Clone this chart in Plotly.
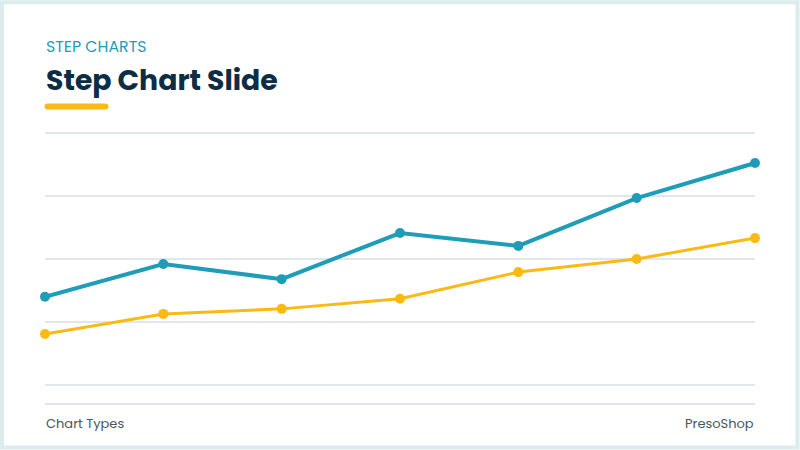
import plotly.graph_objects as go

categories = ["P1", "P2", "P3", "P4", "P5", "P6", "P7"]
series_a = [35.0, 48.0, 42.0, 60.3, 55.2, 74.2, 88.1]
series_b = [20.2, 28.2, 30.2, 34.2, 44.8, 50.0, 58.3]
y_ticks = [0, 25, 50, 75, 100]

BLUE = "#1f9db8"
YELLOW = "#fbb913"
NAVY = "#0c2d44"
GREY_TXT = "#4b5661"
FONT = "Poppins, Inter, Lato, sans-serif"

W, H = 800, 450
PX_PER_UNIT = 2.52
PAD_UNITS = 4
L, R = 45, 755
T = 133 - PAD_UNITS * PX_PER_UNIT
B = 385 + PAD_UNITS * PX_PER_UNIT


def px(x):
    return (x - L) / (R - L)


def py(y):
    return (B - y) / (B - T)


fig = go.Figure()
fig.add_trace(go.Scatter(x=categories, y=series_a, mode="lines+markers",
                         line=dict(color=BLUE, width=4),
                         marker=dict(size=10, color=BLUE),
                         cliponaxis=False, showlegend=False))
fig.add_trace(go.Scatter(x=categories, y=series_b, mode="lines+markers",
                         line=dict(color=YELLOW, width=3),
                         marker=dict(size=10, color=YELLOW),
                         cliponaxis=False, showlegend=False))

shapes = [
    # slide border
    dict(type="rect", xref="paper", yref="paper",
         x0=px(2), x1=px(797.5), y0=py(2), y1=py(447.5),
         line=dict(color="#dcebee", width=4), layer="below"),
    # footer separator
    dict(type="line", xref="paper", yref="paper",
         x0=0, x1=1, y0=py(404), y1=py(404),
         line=dict(color="#dfe5e9", width=2)),
    # yellow accent bar
    dict(type="path", xref="paper", yref="paper",
         path=(f"M {px(48)},{py(103.3)} L {px(105)},{py(103.3)} "
               f"Q {px(108.5)},{py(103.3)} {px(108.5)},{py(106.3)} "
               f"Q {px(108.5)},{py(109.3)} {px(105)},{py(109.3)} "
               f"L {px(48)},{py(109.3)} "
               f"Q {px(44.5)},{py(109.3)} {px(44.5)},{py(106.3)} "
               f"Q {px(44.5)},{py(103.3)} {px(48)},{py(103.3)} Z"),
         fillcolor=YELLOW, line=dict(width=0)),
]

annotations = [
    dict(text="STEP CHARTS", x=px(44), y=py(46), xref="paper", yref="paper",
         xanchor="left", yanchor="middle", showarrow=False,
         font=dict(family=FONT, size=15.8, color=BLUE)),
    dict(text="<b>Step Chart Slide</b>", x=px(43.5), y=py(80), xref="paper", yref="paper",
         xanchor="left", yanchor="middle", showarrow=False,
         font=dict(family=FONT, size=28.3, color=NAVY)),
    dict(text="Chart Types", x=px(44), y=py(424), xref="paper", yref="paper",
         xanchor="left", yanchor="middle", showarrow=False,
         font=dict(family=FONT, size=13, color=GREY_TXT)),
    dict(text="PresoShop", x=px(756), y=py(424), xref="paper", yref="paper",
         xanchor="right", yanchor="middle", showarrow=False,
         font=dict(family=FONT, size=13, color=GREY_TXT)),
]

fig.update_layout(
    width=W, height=H,
    margin=dict(l=L, r=W - R, t=T, b=H - B, pad=0),
    paper_bgcolor="white", plot_bgcolor="white",
    shapes=shapes, annotations=annotations,
    xaxis=dict(showgrid=False, showticklabels=False, zeroline=False,
               showline=False, ticks="", range=[0, 6], fixedrange=True),
    yaxis=dict(range=[-PAD_UNITS, 100 + PAD_UNITS], tickvals=y_ticks,
               showticklabels=False, showgrid=True, gridcolor="#dfe7ec",
               gridwidth=1.5, zeroline=False, showline=False, ticks="",
               fixedrange=True),
)
fig.update_xaxes(type="category")

fig.write_html("out.html", config={"displayModeBar": False},
               post_script="document.body.style.margin='0';document.body.style.overflow='hidden';")
